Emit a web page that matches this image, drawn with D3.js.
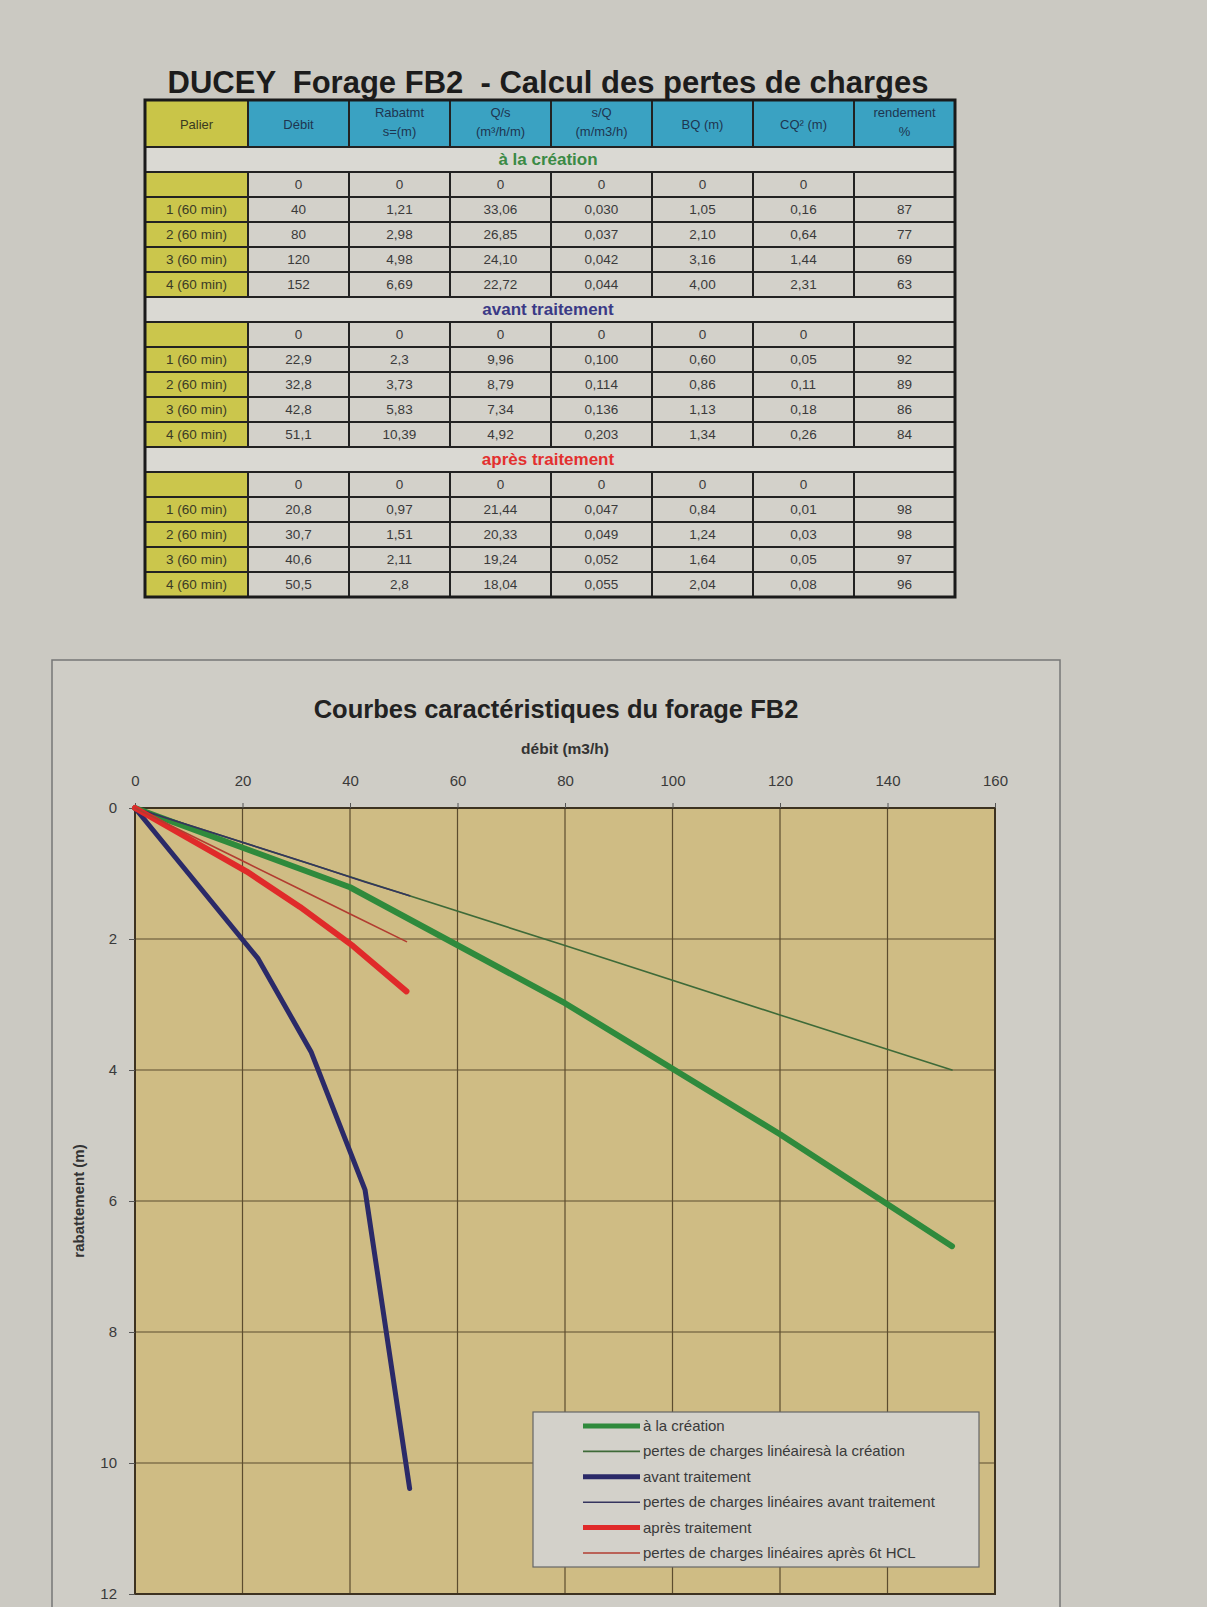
<!DOCTYPE html>
<html><head><meta charset="utf-8">
<script src="https://cdn.jsdelivr.net/npm/d3@7/dist/d3.min.js"></script>
<style>
html,body{margin:0;padding:0;background:#cbc9c2;}
svg{display:block;font-family:"Liberation Sans",Arial,sans-serif;}
</style></head>
<body>
<svg id="page" width="1207" height="1607"></svg>
<script>
// ---------- DATA ----------
const tableTitle = "DUCEY  Forage FB2  - Calcul des pertes de charges";
const headers = [["Palier"],["Débit"],["Rabatmt","s=(m)"],["Q/s","(m³/h/m)"],["s/Q","(m/m3/h)"],["BQ (m)"],["CQ² (m)"],["rendement","%"]];
const paliers = ["", "1 (60 min)", "2 (60 min)", "3 (60 min)", "4 (60 min)"];

const sectionNames = ["à la création", "avant traitement", "après traitement"];
const sectionColors = ["#3b8a45", "#3a3a86", "#e3302f"];

const creationDebit = ["0","40","80","120","152"];
const creationRabat = ["0","1,21","2,98","4,98","6,69"];
const creationQs    = ["0","33,06","26,85","24,10","22,72"];
const creationSQ    = ["0","0,030","0,037","0,042","0,044"];
const creationBQ    = ["0","1,05","2,10","3,16","4,00"];
const creationCQ2   = ["0","0,16","0,64","1,44","2,31"];
const creationRend  = ["","87","77","69","63"];

const avantDebit = ["0","22,9","32,8","42,8","51,1"];
const avantRabat = ["0","2,3","3,73","5,83","10,39"];
const avantQs    = ["0","9,96","8,79","7,34","4,92"];
const avantSQ    = ["0","0,100","0,114","0,136","0,203"];
const avantBQ    = ["0","0,60","0,86","1,13","1,34"];
const avantCQ2   = ["0","0,05","0,11","0,18","0,26"];
const avantRend  = ["","92","89","86","84"];

const apresDebit = ["0","20,8","30,7","40,6","50,5"];
const apresRabat = ["0","0,97","1,51","2,11","2,8"];
const apresQs    = ["0","21,44","20,33","19,24","18,04"];
const apresSQ    = ["0","0,047","0,049","0,052","0,055"];
const apresBQ    = ["0","0,84","1,24","1,64","2,04"];
const apresCQ2   = ["0","0,01","0,03","0,05","0,08"];
const apresRend  = ["","98","98","97","96"];

const chartTitle = "Courbes caractéristiques du forage FB2";
const xAxisTitle = "débit (m3/h)";
const yAxisTitle = "rabattement (m)";
const xTicks = [0,20,40,60,80,100,120,140,160];
const yTicks = [0,2,4,6,8,10,12];

const seriesNames = [
  "à la création",
  "pertes de charges linéairesà la création",
  "avant traitement",
  "pertes de charges linéaires avant traitement",
  "après traitement",
  "pertes de charges linéaires après 6t HCL"
];

// ---------- HELPERS ----------
const num = s => +String(s).replace(",", ".");
const sections = [
  [creationDebit, creationRabat, creationQs, creationSQ, creationBQ, creationCQ2, creationRend],
  [avantDebit, avantRabat, avantQs, avantSQ, avantBQ, avantCQ2, avantRend],
  [apresDebit, apresRabat, apresQs, apresSQ, apresBQ, apresCQ2, apresRend]
];

const svg = d3.select("#page");
const font = "Liberation Sans, Arial, sans-serif";

// ---------- TABLE ----------
const colEdges = [145, 248].concat(d3.range(1,8).map(i => 248 + i*101));
const tbl = svg.append("g");
const headerTop = 100, headerH = 47, rowH = 25;

tbl.append("text").attr("x", 548).attr("y", 93).attr("text-anchor","middle")
  .style("white-space","pre")
  .attr("font-size", 31).attr("font-weight","bold").attr("fill","#1c1c1c").text(tableTitle);

// header
headers.forEach((h,i) => {
  const x0 = colEdges[i], x1 = colEdges[i+1];
  tbl.append("rect").attr("x",x0).attr("y",headerTop).attr("width",x1-x0).attr("height",headerH)
    .attr("fill", i===0 ? "#c9c548" : "#3aa2c2").attr("stroke","#222").attr("stroke-width",2);
  const t = tbl.append("text").attr("text-anchor","middle").attr("font-size",13)
    .attr("fill", i===0 ? "#3a3a20" : "#1e3550");
  if (h.length===1) {
    t.attr("x",(x0+x1)/2).attr("y",headerTop+headerH/2+5).text(h[0]);
  } else {
    t.append("tspan").attr("x",(x0+x1)/2).attr("y",headerTop+17).text(h[0]);
    t.append("tspan").attr("x",(x0+x1)/2).attr("y",headerTop+36).text(h[1]);
  }
});

let yCur = headerTop + headerH;
sections.forEach((cols, si) => {
  tbl.append("rect").attr("x",colEdges[0]).attr("y",yCur).attr("width",colEdges[8]-colEdges[0]).attr("height",rowH)
    .attr("fill","#dad9d3").attr("stroke","#222").attr("stroke-width",2);
  tbl.append("text").attr("x",548).attr("y",yCur+18).attr("text-anchor","middle")
    .attr("font-size",17).attr("font-weight","bold").attr("fill",sectionColors[si]).text(sectionNames[si]);
  yCur += rowH;
  paliers.forEach((p, ri) => {
    const yy = yCur + ri*rowH;
    tbl.append("rect").attr("x",colEdges[0]).attr("y",yy).attr("width",colEdges[1]-colEdges[0]).attr("height",rowH)
      .attr("fill","#cbc64c").attr("stroke","#222").attr("stroke-width",2);
    tbl.append("text").attr("x",(colEdges[0]+colEdges[1])/2).attr("y",yy+17).attr("text-anchor","middle")
      .attr("font-size",13.5).attr("fill","#3a3a26").text(p);
    cols.forEach((c, ci) => {
      const x0 = colEdges[ci+1], x1 = colEdges[ci+2];
      tbl.append("rect").attr("x",x0).attr("y",yy).attr("width",x1-x0).attr("height",rowH)
        .attr("fill","#d3d1ca").attr("stroke","#222").attr("stroke-width",2);
      tbl.append("text").attr("x",(x0+x1)/2).attr("y",yy+17).attr("text-anchor","middle")
        .attr("font-size",13.5).attr("fill","#3a3a3a").text(c[ri]);
    });
  });
  yCur += paliers.length*rowH;
});
tbl.append("rect").attr("x",colEdges[0]).attr("y",headerTop).attr("width",colEdges[8]-colEdges[0])
  .attr("height",yCur-headerTop).attr("fill","none").attr("stroke","#1a1a1a").attr("stroke-width",3);

// ---------- CHART ----------
const ch = svg.append("g");
ch.append("rect").attr("x",52).attr("y",660).attr("width",1008).attr("height",1000)
  .attr("fill","#cfcdc6").attr("stroke","#777").attr("stroke-width",1.5);

const pl = 135, pr = 995, pt = 808, pb = 1594;
const x = d3.scaleLinear().domain([0,160]).range([pl,pr]);
const y = d3.scaleLinear().domain([0,12]).range([pt,pb]);

ch.append("rect").attr("x",pl).attr("y",pt).attr("width",pr-pl).attr("height",pb-pt).attr("fill","#cfbc84");

// grid
ch.append("g").selectAll("line").data(xTicks).join("line")
  .attr("x1",d=>x(d)).attr("x2",d=>x(d)).attr("y1",pt).attr("y2",pb)
  .attr("stroke","#5c4c2e").attr("stroke-width",1.2);
ch.append("g").selectAll("line").data(yTicks).join("line")
  .attr("x1",pl).attr("x2",pr).attr("y1",d=>y(d)).attr("y2",d=>y(d))
  .attr("stroke","#5c4c2e").attr("stroke-width",1.2);
ch.append("rect").attr("x",pl).attr("y",pt).attr("width",pr-pl).attr("height",pb-pt)
  .attr("fill","none").attr("stroke","#3d3220").attr("stroke-width",2);

// axes
const xa = ch.append("g").attr("transform",`translate(0,${pt})`)
  .call(d3.axisTop(x).tickValues(xTicks).tickSize(5).tickPadding(17).tickFormat(d3.format("d")));
const ya = ch.append("g").attr("transform",`translate(${pl},0)`)
  .call(d3.axisLeft(y).tickValues(yTicks).tickSize(6).tickPadding(12).tickFormat(d3.format("d")));
[xa,ya].forEach(a => {
  a.select(".domain").remove();
  a.selectAll("line").attr("stroke","#555");
  a.selectAll("text").attr("font-size",15).attr("font-family",font).attr("fill","#3a3a3a");
});

ch.append("text").attr("x",556).attr("y",718).attr("text-anchor","middle")
  .attr("font-size",25.5).attr("font-weight","bold").attr("fill","#222").text(chartTitle);
ch.append("text").attr("x",(pl+pr)/2).attr("y",754).attr("text-anchor","middle")
  .attr("font-size",15.5).attr("font-weight","bold").attr("fill","#333").text(xAxisTitle);
ch.append("text").attr("transform",`translate(84,${(pt+pb)/2}) rotate(-90)`).attr("text-anchor","middle")
  .attr("font-size",15).attr("font-weight","bold").attr("fill","#333").text(yAxisTitle);

// series
const series = [
  {xs: creationDebit, ys: creationRabat, color:"#2f8a3c", w:6},
  {xs: creationDebit, ys: creationBQ,    color:"#3e6a38", w:1.6},
  {xs: avantDebit,    ys: avantRabat,    color:"#2b2a68", w:5},
  {xs: avantDebit,    ys: avantBQ,       color:"#34345e", w:1.6},
  {xs: apresDebit,    ys: apresRabat,    color:"#e02a2a", w:6},
  {xs: apresDebit,    ys: apresBQ,       color:"#b23c30", w:1.6}
];
const line = d3.line().x(d=>x(d[0])).y(d=>y(d[1]));
series.forEach(s => {
  const pts = s.xs.map((v,i) => [num(v), num(s.ys[i])]);
  ch.append("path").attr("d", line(pts)).attr("fill","none")
    .attr("stroke", s.color).attr("stroke-width", s.w)
    .attr("stroke-linejoin","round").attr("stroke-linecap","round");
});

// legend
const lg = ch.append("g");
lg.append("rect").attr("x",533).attr("y",1412).attr("width",446).attr("height",155)
  .attr("fill","#d3d1ca").attr("stroke","#666").attr("stroke-width",1.2);
seriesNames.forEach((n,i) => {
  const yy = 1426 + i*25.4;
  lg.append("line").attr("x1",583).attr("x2",640).attr("y1",yy).attr("y2",yy)
    .attr("stroke",series[i].color).attr("stroke-width", series[i].w > 3 ? 5 : 1.6);
  lg.append("text").attr("x",643).attr("y",yy+5).attr("font-size",15).attr("fill","#3a3a3a").text(n);
});
</script>
</body></html>
